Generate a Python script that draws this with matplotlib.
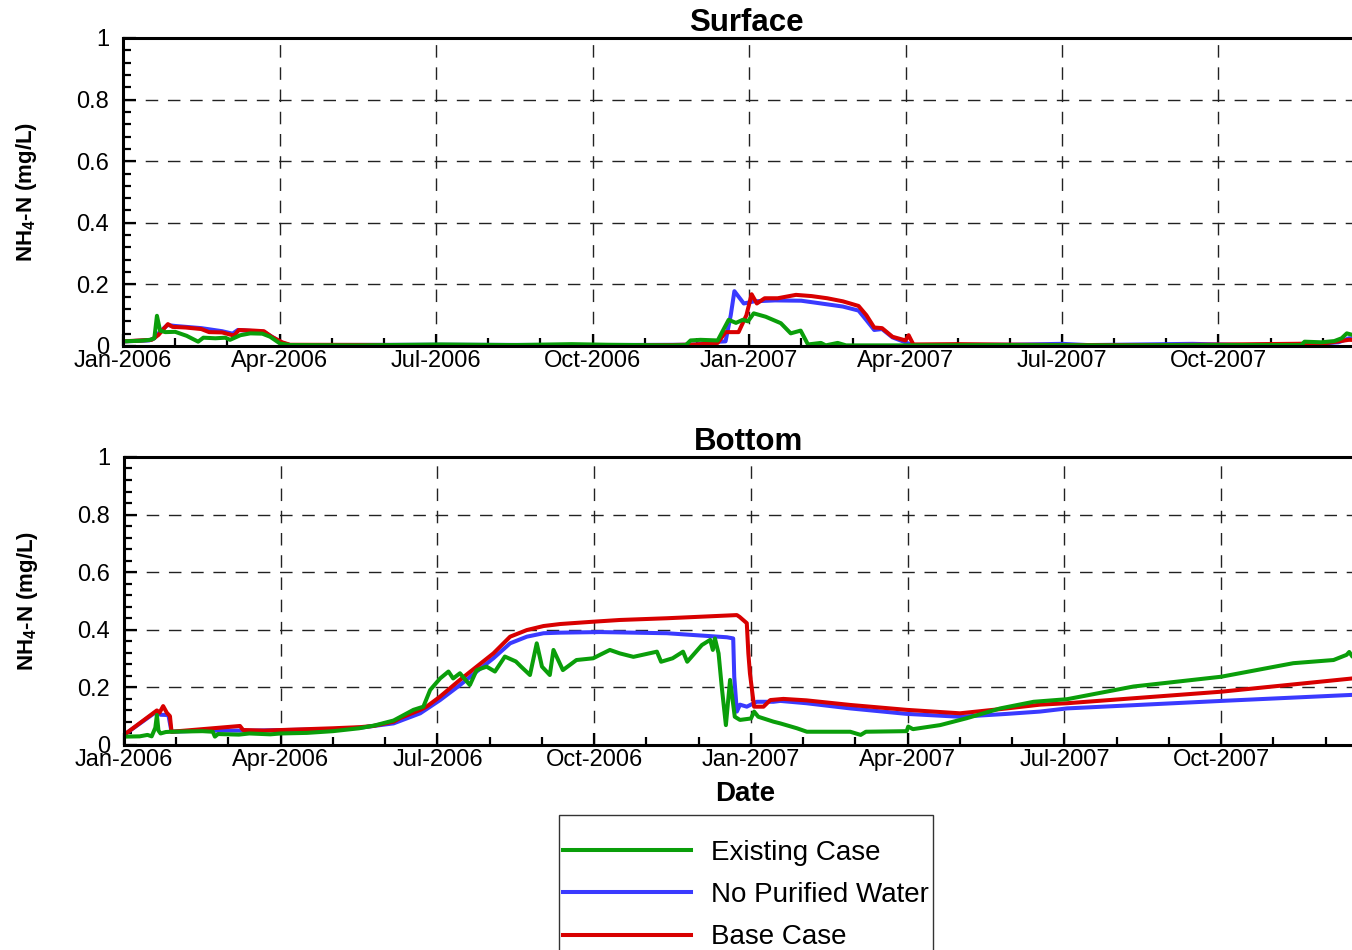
import matplotlib
matplotlib.use('Agg')
import matplotlib.pyplot as plt
from matplotlib.ticker import MultipleLocator, FixedLocator

plt.rcParams['font.family'] = ['Liberation Sans', 'DejaVu Sans']
plt.rcParams['mathtext.fontset'] = 'custom'
plt.rcParams['mathtext.rm'] = 'Liberation Sans:bold'

# x values are months since Jan-2006
tick_months = [0, 3, 6, 9, 12, 15, 18, 21]
tick_labels = ['Jan-2006', 'Apr-2006', 'Jul-2006', 'Oct-2006',
               'Jan-2007', 'Apr-2007', 'Jul-2007', 'Oct-2007']
y_ticks = [0, 0.2, 0.4, 0.6, 0.8, 1.0]
y_labels = ['0', '0.2', '0.4', '0.6', '0.8', '1']
names = ['Existing Case', 'No Purified Water', 'Base Case']
colors = ['#0a9e0a', '#3a3aff', '#d80000']

# Surface
surf_exist_t = [0.0, 0.33, 0.52, 0.6, 0.65, 0.71, 0.81, 1.0, 1.22, 1.44, 1.54, 1.77, 1.96, 2.05,
                2.25, 2.44, 2.67, 2.82, 3.01, 3.2, 4.5, 6.1, 7.5, 8.6, 9.3, 10.5, 10.79, 10.88,
                11.07, 11.4, 11.5, 11.61, 11.75, 11.88, 11.98, 12.09, 12.32, 12.61, 12.8, 12.99,
                13.13, 13.38, 13.47, 13.7, 13.86, 15.0, 17.0, 19.0, 21.0, 22.59, 22.65, 22.97,
                23.22, 23.36, 23.46, 23.59, 24.0]
surf_exist_v = [0.015, 0.017, 0.02, 0.025, 0.098, 0.05, 0.045, 0.046, 0.033, 0.014, 0.027, 0.025,
                0.027, 0.02, 0.035, 0.041, 0.04, 0.03, 0.008, 0.003, 0.002, 0.005, 0.003, 0.006,
                0.004, 0.002, 0.003, 0.018, 0.02, 0.018, 0.05, 0.085, 0.075, 0.085, 0.08, 0.106,
                0.095, 0.074, 0.041, 0.05, 0.005, 0.01, 0.002, 0.01, 0.002, 0.002, 0.003, 0.002,
                0.003, 0.003, 0.014, 0.012, 0.016, 0.025, 0.041, 0.035, 0.035]

surf_nopw_t = [0.0, 0.5, 0.6, 0.7, 0.85, 1.0, 1.5, 1.9, 2.1, 2.2, 2.7, 2.9, 3.05, 3.2, 6.0, 9.0,
               10.8, 11.0, 11.2, 11.55, 11.65, 11.72, 11.9, 12.1, 12.5, 13.0, 13.3, 13.8, 14.1,
               14.25, 14.4, 14.55, 14.75, 14.95, 15.1, 15.2, 17.0, 18.0, 18.5, 20.5, 21.5, 23.0,
               23.3, 23.5, 24.0]
surf_nopw_v = [0.015, 0.018, 0.025, 0.045, 0.068, 0.065, 0.058, 0.048, 0.04, 0.052, 0.046, 0.025,
               0.01, 0.003, 0.004, 0.003, 0.004, 0.005, 0.012, 0.015, 0.1, 0.178, 0.138, 0.145,
               0.148, 0.147, 0.14, 0.128, 0.115, 0.084, 0.052, 0.055, 0.028, 0.015, 0.005, 0.003,
               0.004, 0.007, 0.003, 0.007, 0.003, 0.008, 0.012, 0.025, 0.02]

surf_base_t = [0.0, 0.55, 0.68, 0.75, 0.86, 0.95, 1.2, 1.5, 1.65, 1.9, 2.1, 2.12, 2.22, 2.5, 2.7,
               2.85, 3.05, 3.2, 6.0, 9.0, 10.5, 11.0, 11.4, 11.55, 11.8, 11.95, 12.05, 12.15, 12.3,
               12.55, 12.9, 13.2, 13.5, 13.8, 14.1, 14.25, 14.4, 14.55, 14.75, 15.0, 15.06, 15.15,
               16.0, 18.0, 20.0, 23.0, 23.3, 23.5, 24.0]
surf_base_v = [0.015, 0.02, 0.036, 0.05, 0.071, 0.062, 0.06, 0.055, 0.045, 0.044, 0.035, 0.032,
               0.052, 0.05, 0.048, 0.03, 0.012, 0.004, 0.003, 0.003, 0.003, 0.005, 0.01, 0.045,
               0.045, 0.1, 0.168, 0.138, 0.155, 0.155, 0.166, 0.162, 0.155, 0.145, 0.13, 0.1, 0.06,
               0.058, 0.03, 0.018, 0.035, 0.005, 0.006, 0.003, 0.003, 0.008, 0.015, 0.02, 0.018]

# Bottom
bot_exist_t = [0.0, 0.3, 0.45, 0.53, 0.6, 0.63, 0.66, 0.7, 0.8, 0.9, 1.5, 1.7, 1.74, 1.8, 2.2, 2.4,
               2.8, 3.0, 3.5, 4.0, 4.5, 4.8, 5.16, 5.54, 5.73, 5.86, 6.05, 6.21, 6.3, 6.43, 6.62,
               6.75, 6.94, 7.1, 7.29, 7.5, 7.6, 7.77, 7.9, 8.0, 8.15, 8.22, 8.4, 8.66, 8.98, 9.11,
               9.3, 9.49, 9.75, 10.2, 10.28, 10.5, 10.7, 10.78, 11.06, 11.22, 11.27, 11.31, 11.38,
               11.44, 11.52, 11.6, 11.69, 11.79, 12.0, 12.06, 12.14, 12.43, 12.56, 12.88, 13.07,
               13.9, 14.1, 14.2, 14.98, 15.01, 15.1, 15.62, 16.13, 16.77, 17.41, 18.05, 19.32,
               21.0, 22.38, 23.15, 23.4, 23.45, 23.51, 24.0]
bot_exist_v = [0.029, 0.03, 0.035, 0.03, 0.06, 0.104, 0.05, 0.04, 0.045, 0.046, 0.048, 0.046,
               0.029, 0.038, 0.036, 0.04, 0.037, 0.04, 0.042, 0.048, 0.058, 0.068, 0.085, 0.122,
               0.133, 0.191, 0.231, 0.255, 0.231, 0.249, 0.208, 0.26, 0.272, 0.255, 0.307, 0.29,
               0.272, 0.243, 0.353, 0.272, 0.243, 0.33, 0.26, 0.295, 0.301, 0.313, 0.33, 0.318,
               0.306, 0.324, 0.289, 0.301, 0.324, 0.289, 0.347, 0.365, 0.33, 0.37, 0.318, 0.203,
               0.069, 0.226, 0.098, 0.087, 0.092, 0.116, 0.098, 0.081, 0.075, 0.058, 0.046, 0.046,
               0.035, 0.046, 0.048, 0.064, 0.055, 0.069, 0.093, 0.127, 0.15, 0.159, 0.203, 0.237,
               0.284, 0.295, 0.313, 0.323, 0.307, 0.31]

bot_nopw_t = [0.0, 0.63, 0.7, 0.85, 0.91, 1.5, 2.5, 4.0, 4.52, 5.16, 5.67, 6.05, 6.43, 6.75, 7.07,
              7.39, 7.71, 8.03, 8.35, 9.11, 10.39, 11.54, 11.66, 11.68, 11.73, 11.79, 11.92, 12.11,
              12.43, 12.56, 13.06, 13.9, 14.98, 16.0, 16.9, 17.53, 18.05, 21.0, 23.51, 24.0]
bot_nopw_v = [0.035, 0.117, 0.105, 0.104, 0.046, 0.05, 0.05, 0.055, 0.06, 0.075, 0.11, 0.156,
              0.208, 0.255, 0.301, 0.353, 0.376, 0.388, 0.39, 0.392, 0.388, 0.374, 0.37, 0.237,
              0.116, 0.14, 0.133, 0.15, 0.15, 0.153, 0.145, 0.127, 0.108, 0.098, 0.108, 0.116,
              0.127, 0.153, 0.174, 0.176]

bot_base_t = [0.0, 0.63, 0.68, 0.75, 0.82, 0.88, 0.91, 1.5, 2.22, 2.28, 2.68, 4.0, 4.52, 4.77,
              5.16, 5.28, 5.67, 5.79, 6.05, 6.24, 6.43, 6.75, 7.07, 7.39, 7.71, 8.03, 8.35, 8.98,
              9.49, 10.39, 11.73, 11.78, 11.92, 11.95, 11.98, 12.06, 12.24, 12.37, 12.62, 13.06,
              13.9, 14.98, 16.0, 16.9, 17.53, 18.05, 21.0, 23.51, 24.0]
bot_base_v = [0.035, 0.12, 0.112, 0.135, 0.112, 0.1, 0.046, 0.055, 0.066, 0.052, 0.05, 0.058,
              0.062, 0.066, 0.081, 0.093, 0.122, 0.133, 0.168, 0.197, 0.226, 0.272, 0.318, 0.376,
              0.399, 0.413, 0.42, 0.428, 0.434, 0.44, 0.451, 0.445, 0.423, 0.318, 0.249, 0.133,
              0.133, 0.156, 0.16, 0.155, 0.139, 0.122, 0.11, 0.127, 0.14, 0.145, 0.185, 0.231,
              0.235]

panels = [
    ('Surface', [(surf_exist_t, surf_exist_v), (surf_nopw_t, surf_nopw_v), (surf_base_t, surf_base_v)]),
    ('Bottom', [(bot_exist_t, bot_exist_v), (bot_nopw_t, bot_nopw_v), (bot_base_t, bot_base_v)]),
]
# axes boxes in figure fraction; the plot runs past the right edge like the original crop
boxes = [[0.0910, 0.6358, 0.926, 0.3242], [0.0917, 0.2158, 0.9275, 0.3032]]

fig = plt.figure(figsize=(13.52, 9.5), dpi=100)
handles = []
for (title, series), box in zip(panels, boxes):
    ax = fig.add_axes(box)
    # draw blue, red, then green on top
    for i in [1, 2, 0]:
        t, v = series[i]
        ln, = ax.plot(t, v, color=colors[i], lw=2.9, solid_joinstyle='round')
        if title == 'Surface':
            handles.append((i, ln))
    ax.set_xlim(0, 24)
    ax.set_ylim(0, 1)
    ax.xaxis.set_major_locator(FixedLocator(tick_months))
    ax.set_xticklabels(tick_labels)
    ax.xaxis.set_minor_locator(MultipleLocator(1))
    ax.yaxis.set_major_locator(FixedLocator(y_ticks))
    ax.set_yticklabels(y_labels)
    ax.yaxis.set_minor_locator(MultipleLocator(0.04))
    ax.grid(True, which='major', color='#222222', lw=1.0, linestyle=(0, (9, 7)))
    ax.tick_params(which='both', direction='in', top=False, right=False, width=1.6,
                   labelsize=17, pad=3)
    ax.tick_params(which='major', length=9)
    ax.tick_params(which='minor', length=6)
    ax.tick_params(axis='y', pad=10)
    for s in ['left', 'bottom', 'top']:
        ax.spines[s].set_linewidth(2.2)
    ax.spines['right'].set_visible(False)
    ax.set_title(title, fontsize=22.5, fontweight='bold', pad=3, x=0.4979)
    ax.set_ylabel(r'NH$_{\mathrm{4}}$-N (mg/L)', fontsize=16, fontweight='bold')
    ax.yaxis.set_label_coords(-0.067, 0.5)
    if title == 'Bottom':
        ax.set_xlabel('Date', fontsize=20, fontweight='bold', labelpad=4)
        ax.xaxis.set_label_coords(0.4955, -0.125)

handles.sort()
leg = fig.legend([h for _, h in handles], names, loc='upper center',
                 bbox_to_anchor=(746 / 1352, 1 - 815 / 950), bbox_transform=fig.transFigure,
                 fontsize=20, handlelength=4.6, handletextpad=0.75, labelspacing=0.59,
                 borderpad=0.12, borderaxespad=0, fancybox=False, title=' ', title_fontsize=4.5)
leg.get_frame().set_edgecolor('black')
leg.get_frame().set_linewidth(1.0)

fig.savefig('out.png', dpi=100)
